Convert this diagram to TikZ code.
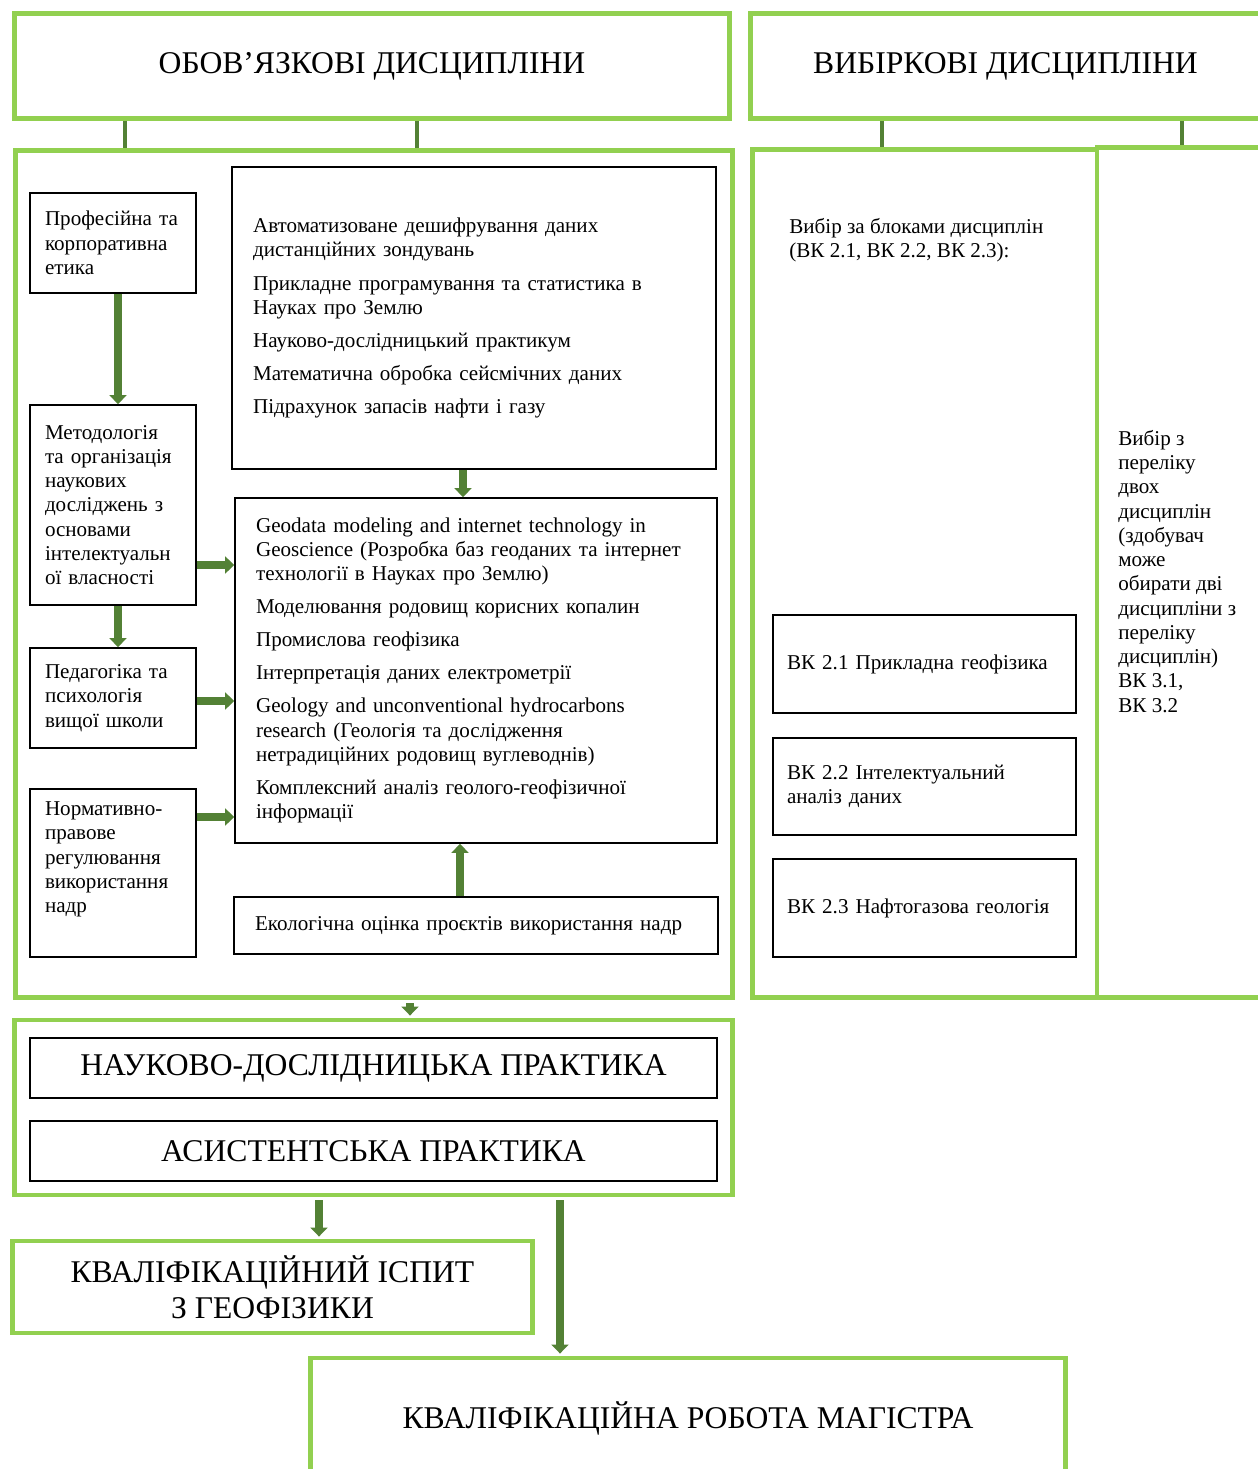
\documentclass[tikz,border=0pt]{standalone}
\usepackage{fontspec}
\setmainfont{Liberation Serif}
\definecolor{lightgreen}{HTML}{92D050}
\definecolor{darkgreen}{HTML}{538135}
\usetikzlibrary{arrows.meta}

\begin{document}
\begin{tikzpicture}[
  x=0.02cm, y=-0.02cm,
  greenbox/.style={rectangle, draw=lightgreen, line width=2.8pt,
    align=center, font=\fontsize{18}{20.7}\selectfont},
  practbox/.style={rectangle, draw=black, line width=1pt,
    minimum width=13.74cm, minimum height=1.2cm,
    align=center, font=\fontsize{18}{20.7}\selectfont},
  leftbox/.style={rectangle, draw=black, line width=1pt,
    text width=2.72cm, minimum width=3.32cm, inner xsep=0.3cm,
    align=left, font=\fontsize{12}{13.8}\selectfont},
  listbox/.style={rectangle, draw=black, line width=1pt,
    inner xsep=0.42cm, align=left, font=\fontsize{12}{13.8}\selectfont},
  vkbox/.style={listbox, minimum width=6.06cm, text width=5.5cm, inner xsep=0.28cm},
  plain/.style={inner sep=0pt, align=left, font=\fontsize{12}{13.8}\selectfont},
  link/.style={darkgreen, line width=2.2pt},
  arr/.style={-{Triangle[width=9.6pt,length=5.1pt]}, darkgreen, line width=4.5pt},
]
  \useasboundingbox (0,0) rectangle (1257,1469);

  \node[greenbox, minimum width=14.32cm, minimum height=2.1cm] (obov) at (372,66)
    {ОБОВ’ЯЗКОВІ ДИСЦИПЛІНИ};
  \node[greenbox, minimum width=10.22cm, minimum height=2.1cm] (vybir) at (1005.5,66)
    {ВИБІРКОВІ ДИСЦИПЛІНИ};
  \node[greenbox, minimum width=14.36cm, minimum height=16.96cm] (oblig) at (374,574) {};
  \node[greenbox, minimum width=6.9cm, minimum height=16.98cm] (bloky) at (924.5,573.5) {};
  \node[greenbox, minimum width=3.28cm, minimum height=17.02cm] (pereliky) at (1179,572.5) {};
  \node[greenbox, minimum width=14.38cm, minimum height=3.5cm] (prakt) at (373.5,1107.5) {};
  \node[greenbox, minimum width=10.42cm, minimum height=1.84cm] (ispyt) at (272.5,1287)
    {КВАЛІФІКАЦІЙНИЙ ІСПИТ\\З ГЕОФІЗИКИ};
  \node[greenbox, minimum width=15.12cm, minimum height=2.4cm] (robota) at (688,1418)
    {КВАЛІФІКАЦІЙНА РОБОТА МАГІСТРА};

  \draw[link] (obov.south -| 125,0) -- (oblig.north -| 125,0);
  \draw[link] (obov.south -| 417,0) -- (oblig.north -| 417,0);
  \draw[link] (vybir.south -| 882,0) -- (bloky.north -| 882,0);
  \draw[link] (vybir.south -| 1182,0) -- (pereliky.north -| 1182,0);

  \node[leftbox, minimum height=2cm] (etyka) at (113,243)
    {Професійна та\\корпоративна\\етика};
  \node[leftbox, minimum height=4cm] (metod) at (113,505)
    {Методологія\\та організація\\наукових\\досліджень з\\основами\\інтелектуальн\\ої власності};
  \node[leftbox, minimum height=2cm] (pedag) at (113,698)
    {Педагогіка та\\психологія\\вищої школи};
  \node[leftbox, minimum height=3.36cm] (norm) at (113,873)
    {Нормативно-\\правове\\регулювання\\використання\\надр\\\strut};

  \node[listbox, minimum width=9.68cm, text width=8.84cm, minimum height=6.04cm] (avto) at (474,318)
    {Автоматизоване дешифрування даних\\дистанційних зондувань\\[5pt]
     Прикладне програмування та статистика в\\Науках про Землю\\[5pt]
     Науково-дослідницький практикум\\[5pt]
     Математична обробка сейсмічних даних\\[5pt]
     Підрахунок запасів нафти і газу};
  \node[listbox, minimum width=9.64cm, text width=8.8cm, minimum height=6.9cm] (geodata) at (476,670.5)
    {Geodata modeling and internet technology in\\Geoscience (Розробка баз геоданих та інтернет\\технології в Науках про Землю)\\[5pt]
     Моделювання родовищ корисних копалин\\[5pt]
     Промислова геофізика\\[5pt]
     Інтерпретація даних електрометрії\\[5pt]
     Geology and unconventional hydrocarbons\\research (Геологія та дослідження\\нетрадиційних родовищ вуглеводнів)\\[5pt]
     Комплексний аналіз геолого-геофізичної\\інформації};
  \node[listbox, minimum width=9.68cm, text width=8.84cm, minimum height=1.14cm] (ekol) at (476,925.5)
    {Екологічна оцінка проєктів використання надр};

  \node[plain, anchor=north west] (blokytext) at (789,218)
    {Вибір за блоками дисциплін\\(ВК 2.1, ВК 2.2, ВК 2.3):};
  \node[vkbox, minimum height=1.96cm] (vk21) at (924.5,664) {ВК 2.1 Прикладна геофізика};
  \node[vkbox, minimum height=1.94cm] (vk22) at (924.5,786.5) {ВК 2.2 Інтелектуальний\\аналіз даних};
  \node[vkbox, minimum height=1.96cm] (vk23) at (924.5,908) {ВК 2.3 Нафтогазова геологія};
  \node[plain, anchor=north west] (perelik) at (1118,430)
    {Вибір з\\переліку\\двох\\дисциплін\\(здобувач\\може\\обирати дві\\дисципліни з\\переліку\\дисциплін)\\ВК 3.1,\\ВК 3.2};

  \node[practbox] (ndp) at (373.5,1068) {НАУКОВО-ДОСЛІДНИЦЬКА ПРАКТИКА};
  \node[practbox] (asyst) at (373.5,1151) {АСИСТЕНТСЬКА ПРАКТИКА};

  \draw[arr] (etyka.south -| 118,0) -- (metod.north -| 118,0);
  \draw[arr] (metod.south -| 118,0) -- (pedag.north -| 118,0);
  \draw[arr] (metod.east |- 0,565) -- (geodata.west |- 0,565);
  \draw[arr] (pedag.east |- 0,701) -- (geodata.west |- 0,701);
  \draw[arr] (norm.east |- 0,817) -- (geodata.west |- 0,817);
  \draw[arr] (avto.south -| 463,0) -- (geodata.north -| 463,0);
  \draw[arr] (ekol.north -| 460,0) -- (geodata.south -| 460,0);
  \draw[arr] ([yshift=-0.06cm]oblig.south -| 410,0) -- ([yshift=0.04cm]prakt.north -| 410,0);
  \draw[arr] ([yshift=-0.06cm]prakt.south -| 319,0) -- ([yshift=0.04cm]ispyt.north -| 319,0);
  \draw[arr] ([yshift=-0.06cm]prakt.south -| 560,0) -- ([yshift=0.04cm]robota.north -| 560,0);
\end{tikzpicture}
\end{document}
